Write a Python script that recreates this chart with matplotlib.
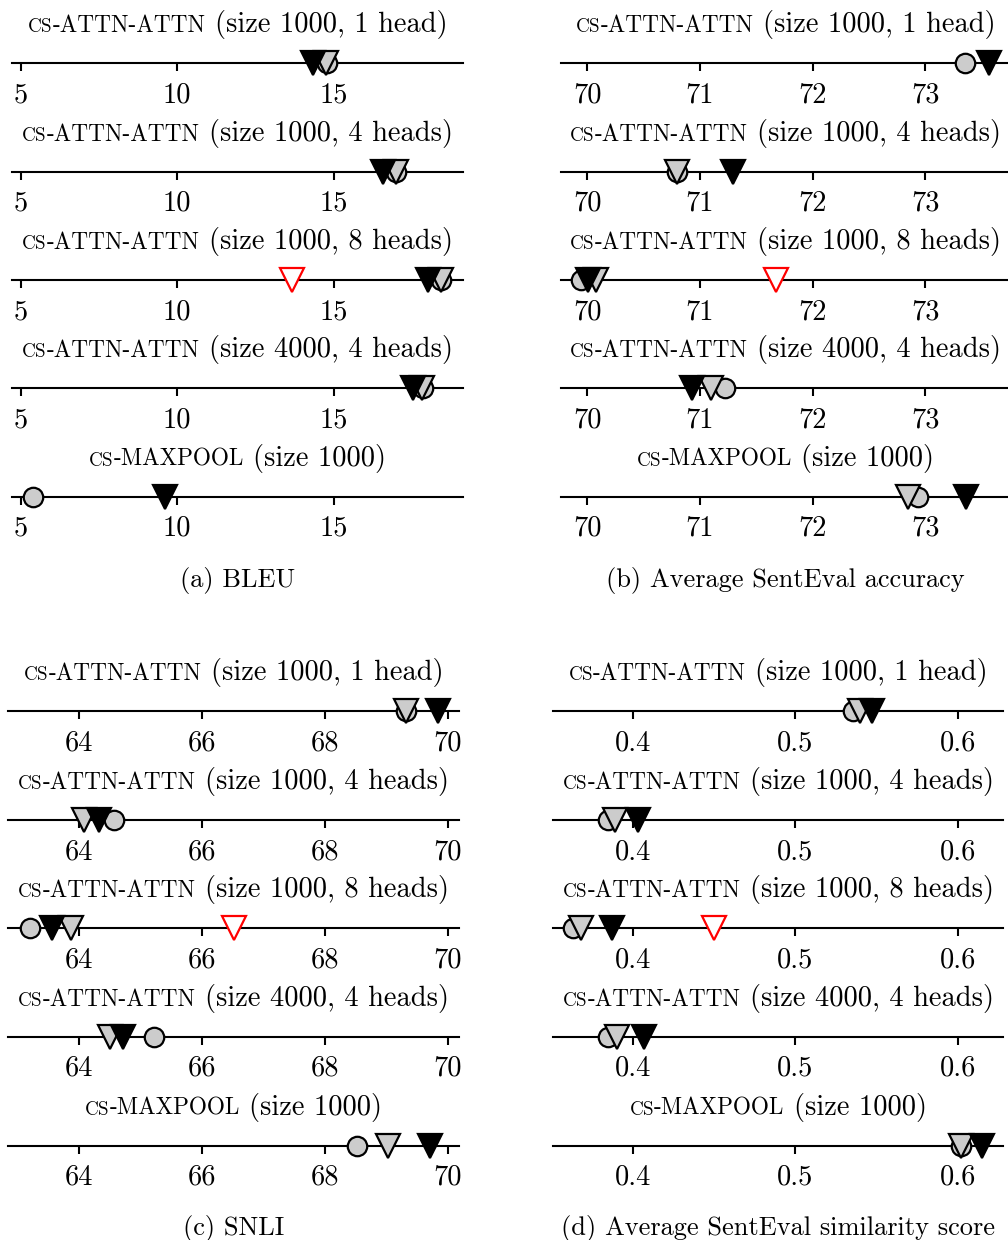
import numpy as np
import matplotlib
matplotlib.use('Agg')
import matplotlib.pyplot as plt
from matplotlib.transforms import IdentityTransform

plt.rcParams['font.family'] = 'cmr10'
plt.rcParams['mathtext.fontset'] = 'cm'
plt.rcParams['axes.formatter.use_mathtext'] = True

nan = np.nan

# row labels: (small-caps prefix, small-caps model name, rest)
row_prefix = ['cs', 'cs', 'cs', 'cs', 'cs']
row_names = ['-attn-attn', '-attn-attn', '-attn-attn', '-attn-attn', '-maxpool']
row_specs = ['(size 1000, 1 head)', '(size 1000, 4 heads)', '(size 1000, 8 heads)',
             '(size 4000, 4 heads)', '(size 1000)']

# (a) BLEU
bleu_circle = [14.78, 17.0, 18.45, 17.85, 5.40]
bleu_gray = [14.76, 17.0, 18.45, 17.82, nan]
bleu_black = [14.35, 16.58, 18.02, 17.54, 9.61]
bleu_red = [nan, nan, 13.66, nan, nan]
bleu_ticks = [5, 10, 15]

# (b) average SentEval accuracy
acc_circle = [73.35, 70.80, 69.94, 71.22, 72.94]
acc_gray = [nan, 70.80, 70.08, 71.10, 72.85]
acc_black = [73.57, 71.29, 70.01, 70.93, 73.36]
acc_red = [nan, nan, 71.68, nan, nan]
acc_ticks = [70, 71, 72, 73]

# (c) SNLI
snli_circle = [69.32, 64.57, 63.19, 65.22, 68.53]
snli_gray = [69.32, 64.07, 63.86, 64.50, 69.03]
snli_black = [69.84, 64.31, 63.55, 64.71, 69.71]
snli_red = [nan, nan, 66.52, nan, nan]
snli_ticks = [64, 66, 68, 70]

# (d) average SentEval similarity
sim_circle = [0.5356, 0.385, 0.3635, 0.385, 0.6016]
sim_gray = [0.5397, 0.389, 0.368, 0.3905, 0.6018]
sim_black = [0.5473, 0.4035, 0.3875, 0.407, 0.6145]
sim_red = [nan, nan, 0.4502, nan, nan]
sim_ticks = [0.4, 0.5, 0.6]

W, H = 1008, 1240
FS = 20.5      # text inside the plots
SC = 16.8      # fake small caps
SC_LOW = 13.8  # fake small caps for lowercase letters
CAP_FS = 19    # sub-captions
fig = plt.figure(figsize=(W / 100, H / 100), dpi=100)
renderer = fig.canvas.get_renderer()


def row_title(cx, base_y, prefix, name, rest):
    y = H - base_y
    parts = [(prefix.upper(), SC_LOW, 0), (name.upper(), SC, 0),
             (rest, FS, FS * 0.33 * 100 / 72)]
    texts, total = [], 0
    for s, size, gap in parts:
        t = fig.text(0, y, s, fontsize=size, ha='left', va='baseline',
                     transform=IdentityTransform())
        w = t.get_window_extent(renderer).width
        texts.append((t, gap, w))
        total += gap + w
    x = cx - total / 2
    for t, gap, w in texts:
        x += gap
        t.set_x(x)
        x += w


def draw_panel(left, width, lines_y, xlim, ticks, circle, gray, black, red, caption, cap_y):
    for i, ly in enumerate(lines_y):
        ax = fig.add_axes([left / W, (H - ly) / H, width / W, 10 / H])
        ax.set_xlim(xlim)
        ax.set_ylim(0, 1)
        for s in ['top', 'left', 'right']:
            ax.spines[s].set_visible(False)
        ax.spines['bottom'].set_linewidth(1.5)
        ax.patch.set_visible(False)
        ax.set_yticks([])
        ax.set_xticks(ticks, [str(t) for t in ticks])
        ax.tick_params(axis='x', direction='out', length=6, width=1.5, labelsize=FS, pad=7.5)

        ax.plot([circle[i]], [0], 'o', ms=14, mfc='0.8', mec='k', mew=1.6, clip_on=False, zorder=3)
        ax.plot([gray[i]], [0], 'v', ms=17, mfc='0.8', mec='k', mew=1.6, clip_on=False, zorder=4)
        ax.plot([black[i]], [0], 'v', ms=17, mfc='k', mec='k', mew=1.6, clip_on=False, zorder=5)
        ax.plot([red[i]], [0], 'v', ms=17, mfc='white', mec='red', mew=1.6, clip_on=False, zorder=6)

        row_title(left + width / 2, ly - 31, row_prefix[i], row_names[i], row_specs[i])

    fig.text((left + width / 2) / W, (H - cap_y) / H, caption, fontsize=CAP_FS,
             ha='center', va='baseline')


top_lines = [63.3, 171.7, 280, 388.3, 496.7]
bot_lines = [711, 820, 928.3, 1036.7, 1145.7]

draw_panel(12.3, 450.4, top_lines, (4.73, 19.13), bleu_ticks,
           bleu_circle, bleu_gray, bleu_black, bleu_red, '(a) BLEU', 587)
draw_panel(560.7, 450, top_lines, (69.764, 73.76), acc_ticks,
           acc_circle, acc_gray, acc_black, acc_red, '(b) Average SentEval accuracy', 587)
draw_panel(8.3, 451, bot_lines, (62.84, 70.19), snli_ticks,
           snli_circle, snli_gray, snli_black, snli_red, '(c) SNLI', 1234.7)
draw_panel(553.3, 450, bot_lines, (0.3512, 0.6279), sim_ticks,
           sim_circle, sim_gray, sim_black, sim_red, '(d) Average SentEval similarity score', 1234.7)

fig.savefig('out.png', dpi=100)
